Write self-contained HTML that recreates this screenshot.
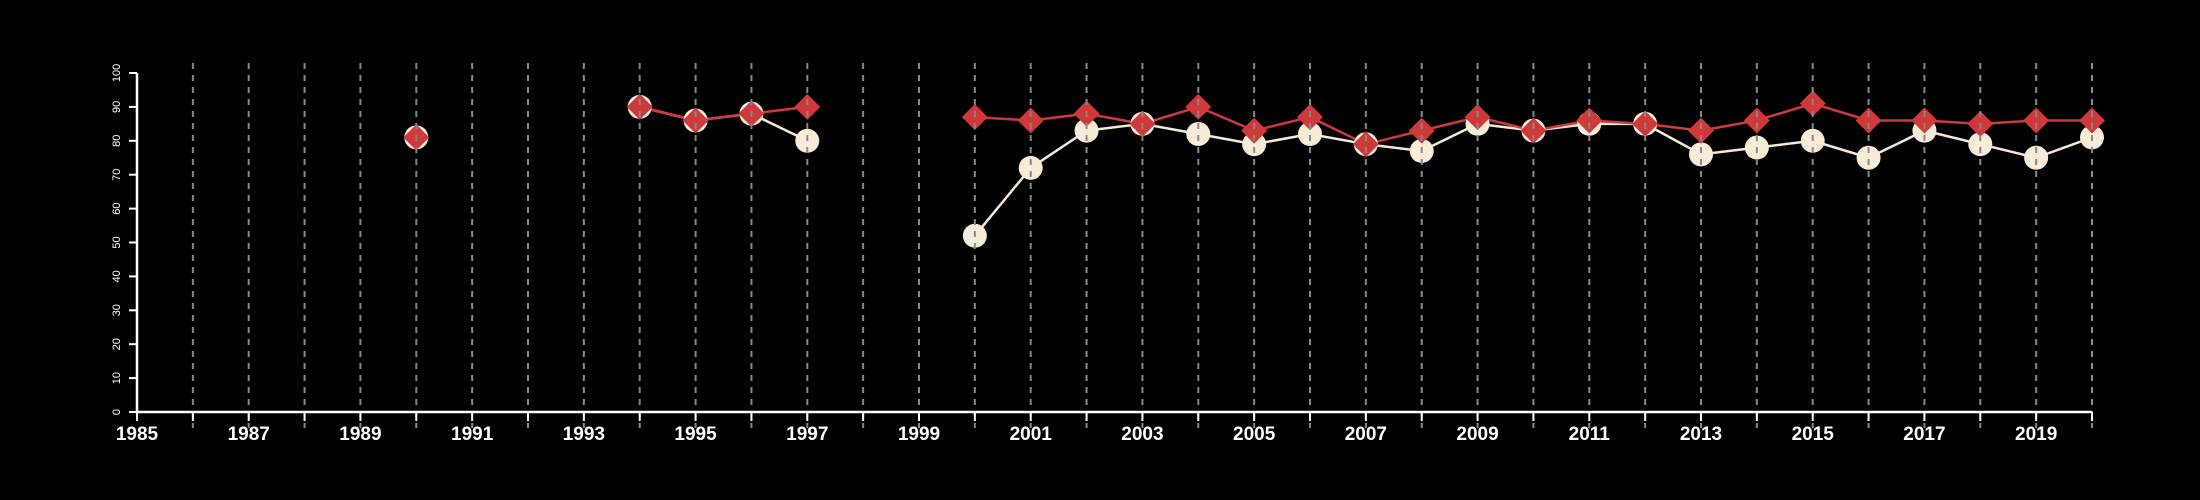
<!DOCTYPE html>
<html><head><meta charset="utf-8"><style>
html,body{margin:0;padding:0;background:#000;}
svg{display:block;font-family:"Liberation Sans",sans-serif;}
</style></head><body>
<svg id="chart" width="2200" height="500" viewBox="0 0 2200 500" xmlns="http://www.w3.org/2000/svg">
<rect width="2200" height="500" fill="#000"/>
<g id="lines"></g><g id="circles"></g><g id="diamonds"></g><g id="grid"></g><g id="axes"></g>
</svg>
<script>
const years = [1990,1994,1995,1996,1997,2000,2001,2002,2003,2004,2005,2006,2007,2008,2009,2010,2011,2012,2013,2014,2015,2016,2017,2018,2019,2020];
const seriesWhite = [81,90,86,88,80,52,72,83,85,82,79,82,79,77,85,83,85,85,76,78,80,75,83,79,75,81];
const seriesRed = [81,90,86,88,90,87,86,88,85,90,83,87,79,83,87,83,86,85,83,86,91,86,86,85,86,86];
const yTicks = [0,10,20,30,40,50,60,70,80,90,100];
const xLabels = [1985,1987,1989,1991,1993,1995,1997,1999,2001,2003,2005,2007,2009,2011,2013,2015,2017,2019];
const xMin=1985,xMax=2020,yMin=0,yMax=100;
const X0=137,X1=2092,Y0=412,Y1=73;
const sx=v=>X0+(v-xMin)/(xMax-xMin)*(X1-X0);
const sy=v=>Y0-(v-yMin)/(yMax-yMin)*(Y0-Y1);
const NS="http://www.w3.org/2000/svg";
function mk(tag,attrs,parent){const e=document.createElementNS(NS,tag);for(const k in attrs)e.setAttribute(k,attrs[k]);parent.appendChild(e);return e;}
const gL=document.getElementById('lines'),gC=document.getElementById('circles'),gD=document.getElementById('diamonds'),gG=document.getElementById('grid'),gA=document.getElementById('axes');
function segs(vals){const out=[];let cur=[];for(let i=0;i<years.length;i++){if(i>0&&years[i]-years[i-1]>1){if(cur.length)out.push(cur);cur=[];}cur.push([sx(years[i]),sy(vals[i])]);}if(cur.length)out.push(cur);return out;}
segs(seriesWhite).forEach(s=>{if(s.length<2)return;const p=mk('polyline',{points:s.map(q=>q.join(',')).join(' '),fill:'none',stroke:'#f5ead8','stroke-width':2.5},gL);

});
segs(seriesRed).forEach(s=>{if(s.length<2)return;const p=mk('polyline',{points:s.map(q=>q.join(',')).join(' '),fill:'none',stroke:'#d0393a','stroke-width':2.5},gL);

});
years.forEach((y,i)=>{const c=mk('circle',{cx:sx(y),cy:sy(seriesWhite[i]),r:12,fill:'#f8ebd8'},gC);


const x=sx(y),yy=sy(seriesRed[i]),d=13;
const p=mk('polygon',{points:`${x},${yy-d} ${x+d},${yy} ${x},${yy+d} ${x-d},${yy}`,fill:'#d0393a'},gD);

});
for(let y=1986;y<=2020;y++){const l=mk('line',{x1:sx(y),x2:sx(y),y1:63,y2:428,stroke:'#888','stroke-width':2,'stroke-dasharray':'6,6'},gG);

}
const ax=mk('line',{x1:X0,x2:X1,y1:Y0,y2:Y0,stroke:'#fff','stroke-width':2.5},gA);


const ay=mk('line',{x1:X0,x2:X0,y1:Y0,y2:Y1,stroke:'#fff','stroke-width':2.5},gA);


for(let y=xMin;y<=xMax;y++){const t=mk('line',{x1:sx(y),x2:sx(y),y1:Y0,y2:Y0+9,stroke:'#fff','stroke-width':2},gA);

}
xLabels.forEach(v=>{const t=mk('text',{x:sx(v),y:440,fill:'#fff','font-size':19,'font-weight':'bold','text-anchor':'middle'},gA);t.textContent=v;

});
yTicks.forEach(v=>{const t=mk('line',{x1:X0-8,x2:X0,y1:sy(v),y2:sy(v),stroke:'#fff','stroke-width':2},gA);


const tx=mk('text',{x:0,y:0,fill:'#fff','font-size':11,'text-anchor':'middle',transform:`translate(120,${sy(v)}) rotate(-90)`},gA);tx.textContent=v;

});
</script>
</body></html>
